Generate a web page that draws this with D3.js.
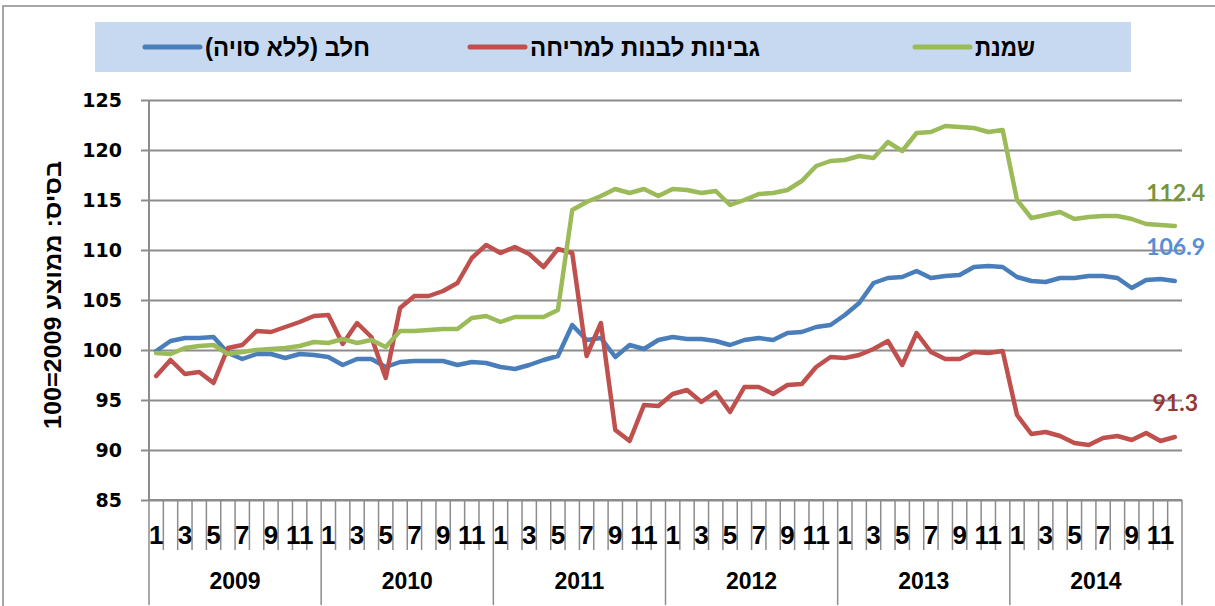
<html>
<head>
<meta charset="utf-8">
<style>
    body{ margin:0; background:#fff; }
    .line{ fill:none; stroke-width:4.5; stroke-linejoin:round; stroke-linecap:round; }
    .grid line{ stroke:#8c8c8c; stroke-width:2; }
</style>
</head>
<script src="https://d3js.org/d3.v7.min.js"></script>
<body>
    <svg id="chart"></svg>
</body>
<script>
    // categories
    let years = [2009, 2010, 2011, 2012, 2013, 2014];
    let months = [1,2,3,4,5,6,7,8,9,10,11,12];
    let yTicks = [85, 90, 95, 100, 105, 110, 115, 120, 125];

    // series (index, 2009 average = 100)
    let milk = [
        99.9, 100.9, 101.2, 101.2, 101.3, 99.7, 99.1, 99.6, 99.6, 99.2, 99.6, 99.5,
        99.3, 98.5, 99.1, 99.1, 98.3, 98.8, 98.9, 98.9, 98.9, 98.5, 98.8, 98.7,
        98.3, 98.1, 98.5, 99.0, 99.4, 102.5, 101.0, 101.2, 99.3, 100.5, 100.1, 101.0,
        101.3, 101.1, 101.1, 100.9, 100.5, 101.0, 101.2, 101.0, 101.7, 101.8, 102.3, 102.5,
        103.5, 104.7, 106.7, 107.2, 107.3, 107.9, 107.2, 107.4, 107.5, 108.3, 108.4, 108.3,
        107.3, 106.9, 106.8, 107.2, 107.2, 107.4, 107.4, 107.2, 106.2, 107.0, 107.1, 106.9
    ];
    let cheese = [
        97.4, 99.0, 97.6, 97.8, 96.7, 100.2, 100.5, 101.9, 101.8, 102.3, 102.8, 103.4,
        103.5, 100.6, 102.7, 101.3, 97.2, 104.2, 105.4, 105.4, 105.9, 106.7, 109.2, 110.5,
        109.7, 110.3, 109.6, 108.3, 110.1, 109.7, 99.4, 102.7, 92.0, 90.9, 94.5, 94.4,
        95.6, 96.0, 94.8, 95.8, 93.8, 96.3, 96.3, 95.6, 96.5, 96.6, 98.3, 99.3,
        99.2, 99.5, 100.1, 100.9, 98.5, 101.7, 99.8, 99.1, 99.1, 99.8, 99.7, 99.9,
        93.5, 91.6, 91.8, 91.4, 90.7, 90.5, 91.2, 91.4, 91.0, 91.7, 90.9, 91.3
    ];
    let oil = [
        99.7, 99.6, 100.2, 100.4, 100.5, 99.6, 99.8, 100.0, 100.1, 100.2, 100.4, 100.8,
        100.7, 101.1, 100.7, 101.0, 100.3, 101.9, 101.9, 102.0, 102.1, 102.1, 103.2, 103.4,
        102.8, 103.3, 103.3, 103.3, 104.0, 114.0, 114.8, 115.4, 116.1, 115.7, 116.1, 115.4,
        116.1, 116.0, 115.7, 115.9, 114.5, 115.0, 115.6, 115.7, 116.0, 116.9, 118.4, 118.9,
        119.0, 119.4, 119.2, 120.8, 119.9, 121.7, 121.8, 122.4, 122.3, 122.2, 121.8, 122.0,
        115.0, 113.2, 113.5, 113.8, 113.1, 113.3, 113.4, 113.4, 113.1, 112.6, 112.5, 112.4
    ];

    let seriesNames = ['חלב (ללא סויה)', 'גבינות לבנות למריחה', 'שמנת'];
    let seriesColors = ['#4a7ebb', '#c0504d', '#9bbb59'];
    let labelColors = ['#558ed5', '#953735', '#77933c'];
    let yTitle = 'בסיס: ממוצע 2009=100';

    let periods = [];
    years.forEach(y => months.forEach(m => periods.push(y + '-' + m)));

    function getConfig(){
        let width = 1215, height = 606;
        let margin = {top: 100, bottom: 106, left: 149, right: 33};
        let bodyWidth = width - margin.left - margin.right;
        let bodyHeight = height - margin.top - margin.bottom;
        let container = d3.select('#chart').attr('width', width).attr('height', height);
        return {width, height, margin, bodyWidth, bodyHeight, container};
    }

    function getScales(config){
        let {margin, bodyWidth, bodyHeight} = config;
        let xScale = d3.scaleBand()
            .domain(periods)
            .range([margin.left, margin.left + bodyWidth])
            .padding(0);
        let yearScale = d3.scaleBand()
            .domain(years)
            .range([margin.left, margin.left + bodyWidth]);
        let yScale = d3.scaleLinear()
            .domain([85, 125])
            .range([margin.top + bodyHeight, margin.top]);
        return {xScale, yearScale, yScale};
    }

    function drawFrame(config){
        let {container} = config;
        container.append('rect')
            .attr('x', 3).attr('y', 6)
            .attr('width', 1240).attr('height', 640)
            .attr('fill', 'none').attr('stroke', '#888').attr('stroke-width', 1.5);
    }

    function drawAxes(scales, config){
        let {xScale, yearScale, yScale} = scales;
        let {container, margin, bodyWidth, bodyHeight} = config;
        let x0 = margin.left, x1 = margin.left + bodyWidth, yB = margin.top + bodyHeight;

        // horizontal grid
        let grid = container.append('g').attr('class', 'grid')
            .attr('transform', `translate(${x0},0)`)
            .call(d3.axisLeft(yScale).tickValues(yTicks).tickSize(-bodyWidth).tickFormat(''));
        grid.select('.domain').remove();
        grid.selectAll('.tick line').attr('x1', -8);

        // y axis line + labels
        container.append('line')
            .attr('x1', x0).attr('x2', x0).attr('y1', margin.top).attr('y2', yB)
            .attr('stroke', '#8c8c8c').attr('stroke-width', 2);
        container.append('g').selectAll('text')
            .data(yTicks).enter().append('text')
            .attr('x', 122).attr('y', d => yScale(d))
            .attr('dy', '0.36em')
            .attr('text-anchor', 'end')
            .style('font', 'bold 19px "DejaVu Sans", sans-serif')
            .attr('fill', '#000')
            .text(d => d);

        // y title
        container.append('text')
            .attr('transform', `translate(61,${(margin.top + yB) / 2 - 5}) rotate(-90)`)
            .attr('text-anchor', 'middle')
            .attr('direction', 'rtl')
            .attr('textLength', 268)
            .attr('lengthAdjust', 'spacingAndGlyphs')
            .style('font', 'bold 23px "Liberation Sans", "DejaVu Sans", sans-serif')
            .attr('fill', '#000')
            .text(yTitle);

        // bottom axis line
        container.append('line')
            .attr('x1', x0).attr('x2', x1).attr('y1', yB).attr('y2', yB)
            .attr('stroke', '#8c8c8c').attr('stroke-width', 2);

        // month ticks
        let bounds = periods.map(p => xScale(p)).concat([x1]);
        container.append('g').selectAll('line')
            .data(bounds).enter().append('line')
            .attr('x1', d => d).attr('x2', d => d)
            .attr('y1', yB).attr('y2', (d, i) => i % 12 === 0 ? 605 : 550)
            .attr('stroke', '#8c8c8c').attr('stroke-width', 1.5);

        // month labels (odd months)
        container.append('g').selectAll('text')
            .data(periods.filter(p => (+p.split('-')[1]) % 2 === 1)).enter().append('text')
            .attr('x', d => xScale(d) + xScale.bandwidth() / 2)
            .attr('y', 535)
            .attr('dy', '0.36em')
            .attr('text-anchor', 'middle')
            .style('font', 'bold 26px "Liberation Sans Narrow", "Liberation Sans", sans-serif')
            .text(d => d.split('-')[1]);

        // year labels
        container.append('g').selectAll('text')
            .data(years).enter().append('text')
            .attr('x', d => yearScale(d) + yearScale.bandwidth() / 2)
            .attr('y', 581)
            .attr('dy', '0.36em')
            .attr('text-anchor', 'middle')
            .style('font', 'bold 23px "Liberation Sans", sans-serif')
            .text(d => d);
    }

    function drawLines(scales, config){
        let {xScale, yScale} = scales;
        let {container} = config;
        let line = d3.line()
            .x((d, i) => xScale(periods[i]) + xScale.bandwidth() / 2)
            .y(d => yScale(d));
        let all = [milk, cheese, oil];
        container.append('g').selectAll('path')
            .data(all).enter().append('path')
            .attr('class', 'line')
            .attr('stroke', (d, i) => seriesColors[i])
            .attr('d', line);

        // end labels
        let labelY = [247, 403, 193];
        let labelX = [1205, 1198, 1205];
        container.append('g').selectAll('text')
            .data(all).enter().append('text')
            .attr('x', (d, i) => labelX[i])
            .attr('y', (d, i) => labelY[i])
            .attr('dy', '0.36em')
            .attr('text-anchor', 'end')
            .style('font', 'bold 23px Lato, "Open Sans", sans-serif')
            .attr('fill', (d, i) => labelColors[i])
            .text(d => d[d.length - 1].toFixed(1));
    }

    function drawLegend(config){
        let {container} = config;
        let g = container.append('g');
        g.append('rect')
            .attr('x', 95).attr('y', 22).attr('width', 1036).attr('height', 50)
            .attr('fill', '#c6d9f1');
        let lineX = [145, 470, 915];
        let textRight = [370, 760, 1035];
        let textLen = [165, 230, 60];
        seriesNames.forEach((name, i) => {
            g.append('line')
                .attr('x1', lineX[i]).attr('x2', lineX[i] + 55)
                .attr('y1', 47).attr('y2', 47)
                .attr('stroke', seriesColors[i]).attr('stroke-width', 5)
                .attr('stroke-linecap', 'round');
            g.append('text')
                .attr('x', textRight[i] - textLen[i]).attr('y', 47)
                .attr('dy', '0.36em')
                .attr('direction', 'rtl')
                .attr('textLength', textLen[i])
                .attr('lengthAdjust', 'spacingAndGlyphs')
                .attr('text-anchor', 'end')
                .style('font', 'bold 25px "Liberation Sans Narrow", "Liberation Sans", sans-serif')
                .text(name);
        });
    }

    let config = getConfig();
    let scales = getScales(config);
    drawFrame(config);
    drawLegend(config);
    drawAxes(scales, config);
    drawLines(scales, config);
</script>
</html>
